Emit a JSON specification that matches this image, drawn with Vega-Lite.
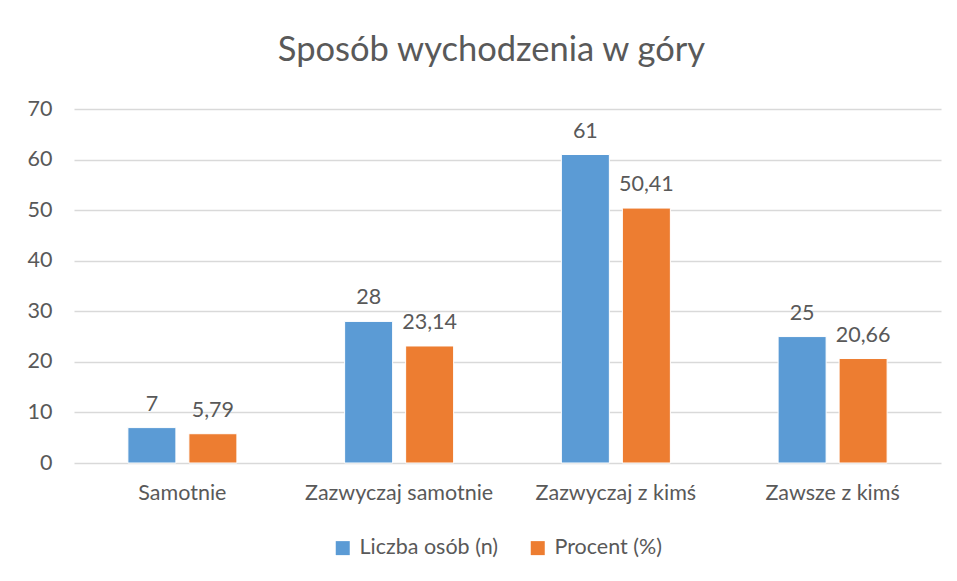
{
  "$schema": "https://vega.github.io/schema/vega-lite/v6.json",
  "autosize": "none",
  "width": 867,
  "height": 354,
  "padding": {"left": 74, "top": 109, "right": 16, "bottom": 118},
  "background": "white",
  "title": {
    "text": "Sposób wychodzenia w góry",
    "fontSize": 34.5,
    "font": "Lato",
    "fontWeight": "normal",
    "color": "#595959",
    "anchor": "middle",
    "dx": -16,
    "offset": 30
  },
  "data": {
    "values": [
      {"kategoria": "Samotnie", "seria": "Liczba osób (n)", "wartosc": 7, "etykieta": "7"},
      {"kategoria": "Samotnie", "seria": "Procent (%)", "wartosc": 5.79, "etykieta": "5,79"},
      {"kategoria": "Zazwyczaj samotnie", "seria": "Liczba osób (n)", "wartosc": 28, "etykieta": "28"},
      {"kategoria": "Zazwyczaj samotnie", "seria": "Procent (%)", "wartosc": 23.14, "etykieta": "23,14"},
      {"kategoria": "Zazwyczaj z kimś", "seria": "Liczba osób (n)", "wartosc": 61, "etykieta": "61"},
      {"kategoria": "Zazwyczaj z kimś", "seria": "Procent (%)", "wartosc": 50.41, "etykieta": "50,41"},
      {"kategoria": "Zawsze z kimś", "seria": "Liczba osób (n)", "wartosc": 25, "etykieta": "25"},
      {"kategoria": "Zawsze z kimś", "seria": "Procent (%)", "wartosc": 20.66, "etykieta": "20,66"}
    ]
  },
  "encoding": {
    "x": {
      "field": "kategoria",
      "type": "nominal",
      "sort": null,
      "scale": {"paddingInner": 0.497, "paddingOuter": 0.2486},
      "axis": {
        "title": null,
        "labelAngle": 0,
        "labelFont": "Lato",
        "labelFontSize": 21.5,
        "labelColor": "#595959",
        "labelPadding": 19,
        "labelLimit": 0,
        "ticks": false,
        "domain": false,
        "grid": false
      }
    },
    "xOffset": {
      "field": "seria",
      "type": "nominal",
      "sort": null,
      "scale": {"paddingInner": 0.213, "paddingOuter": 0}
    },
    "y": {
      "field": "wartosc",
      "type": "quantitative",
      "scale": {"domain": [0, 70], "nice": false},
      "axis": {
        "title": null,
        "values": [0, 10, 20, 30, 40, 50, 60, 70],
        "labelFont": "Lato",
        "labelFontSize": 21.5,
        "labelColor": "#595959",
        "labelPadding": 22,
        "ticks": false,
        "domain": false,
        "grid": true,
        "gridColor": "#D9D9D9",
        "gridWidth": 1.3
      }
    }
  },
  "layer": [
    {
      "mark": {"type": "bar", "stroke": "white", "strokeWidth": 1},
      "encoding": {
        "color": {
          "field": "seria",
          "type": "nominal",
          "sort": null,
          "scale": {"domain": ["Liczba osób (n)", "Procent (%)"], "range": ["#5B9BD5", "#ED7D31"]},
          "legend": {
            "title": null,
            "orient": "none",
            "direction": "horizontal",
            "legendX": 258,
            "legendY": 428,
            "symbolType": "square",
            "symbolSize": 196,
            "symbolStrokeWidth": 0,
            "labelFont": "Lato",
            "labelFontSize": 21.5,
            "labelColor": "#595959",
            "labelOffset": 6,
            "columnPadding": 28
          }
        }
      }
    },
    {
      "mark": {"type": "text", "baseline": "alphabetic", "dy": -17, "font": "Lato", "fontSize": 21.5, "color": "#595959"},
      "encoding": {
        "text": {"field": "etykieta", "type": "nominal"}
      }
    }
  ],
  "config": {
    "view": {"stroke": null}
  }
}
